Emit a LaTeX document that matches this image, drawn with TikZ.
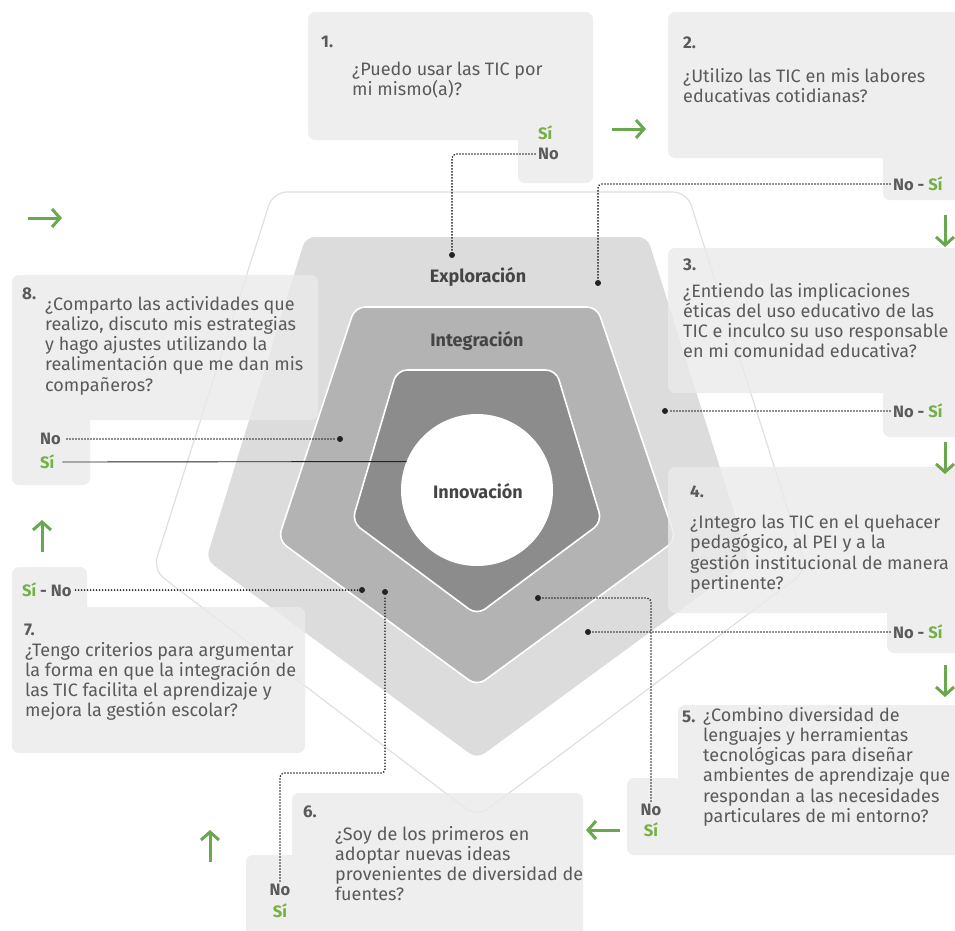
\documentclass[tikz,border=0pt]{standalone}
\usepackage{fontspec}
\setmainfont{Fira Sans}
\usetikzlibrary{arrows.meta,calc}
\definecolor{txt}{HTML}{5A5A5A}
\definecolor{ttlc}{HTML}{454545}
\definecolor{boxg}{HTML}{EAEAEA}
\definecolor{grn}{HTML}{6AA84F}
\definecolor{grnt}{HTML}{74B043}
\definecolor{dotc}{HTML}{222222}
\definecolor{pdark}{HTML}{8C8C8C}
\definecolor{pmed}{HTML}{B3B3B3}
\definecolor{plight}{HTML}{DCDCDC}
\definecolor{pline}{HTML}{E0E0E0}
\begin{document}
\begin{tikzpicture}[x=1pt,y=-1pt,
  boxfill/.style={fill=boxg, fill opacity=0.8, rounded corners=7pt},
  qtext/.style={anchor=north west, inner sep=0pt, align=left, text=txt, font=\fontsize{18}{20.2}\selectfont},
  numtext/.style={anchor=west, inner sep=0pt, text=txt, font=\fontsize{17}{20}\selectfont\bfseries},
  yn/.style={inner sep=0pt, text=txt, font=\fontsize{16.5}{20}\selectfont\bfseries},
  conn/.style={draw=dotc, line width=1.8pt, line cap=round, dash pattern=on 0pt off 3pt, rounded corners=4pt},
  dotm/.style={circle, fill=dotc, inner sep=0pt, minimum size=6pt},
  garrow/.style={draw=grn, line width=3pt, -{Straight Barb[length=8pt,width=18pt,line width=3pt]}},
  ttl/.style={text=ttlc, font=\fontsize{18}{20}\selectfont\bfseries},
  pent/.style={rounded corners=10pt, draw=white, line width=1.6pt}
]
\useasboundingbox (0,0) rectangle (955,930);
\fill[white] (0,0) rectangle (955,930);

% pentagons
\draw[pline, line width=1.2pt, fill=white, rounded corners=14pt]
  (273,192) -- (687,192) -- (807,570) -- (477,817) -- (153,570) -- cycle;
\filldraw[pent, fill=plight]
  (305,236) -- (648,236) -- (750,560) -- (477,760) -- (205,560) -- cycle;
\filldraw[pent, fill=pmed]
  (355,307) -- (597,307) -- (676,540) -- (477,686) -- (278,540) -- cycle;
\filldraw[pent, fill=pdark]
  (397,370) -- (556,370) -- (602,522) -- (477,615) -- (352,522) -- cycle;
\node[circle, fill=white, minimum size=152pt, inner sep=0pt, outer sep=0pt] (circ) at (477,490) {};

\node[ttl] (expl) at (478,277) {Exploración};
\node[ttl] (integ) at (477,341) {Integración};
\node[ttl] (innov) at (478,491) {Innovación};

% boxes
\fill[boxfill] (308,12) rectangle (593,140) (518,120) rectangle (593,183);
\fill[boxfill] (668,12) rectangle (965,158) (883,140) rectangle (965,200);
\fill[boxfill] (668,248) rectangle (965,393) (883,380) rectangle (965,437);
\fill[boxfill] (668,467) rectangle (965,613) (887,600) rectangle (965,653);
\fill[boxfill] (678,705) rectangle (965,855) (627,778) rectangle (690,855);
\fill[boxfill] (292,793) rectangle (583,940) (246,855) rectangle (300,940);
\fill[boxfill] (12,607) rectangle (305,753) (12,567) rectangle (87,620);
\fill[boxfill] (12,275) rectangle (318,420) (12,400) rectangle (90,485);

% numbers
\node[numtext] (n1) at (321,42) {1.};
\node[numtext] (n2) at (683,43) {2.};
\node[numtext] (n3) at (683,265) {3.};
\node[numtext] (n4) at (690,492) {4.};
\node[numtext] (n5) at (682,717) {5.};
\node[numtext] (n6) at (303,812) {6.};
\node[numtext] (n7) at (24,630) {7.};
\node[numtext] (n8) at (22,294) {8.};

% questions
\node[qtext] (q1) at (352,62) {¿Puedo usar las TIC por\\mi mismo(a)?};
\node[qtext] (q2) at (683,68) {¿Utilizo las TIC en mis labores\\educativas cotidianas?};
\node[qtext] (q3) at (683,283) {¿Entiendo las implicaciones\\éticas del uso educativo de las\\TIC e inculco su uso responsable\\en mi comunidad educativa?};
\node[qtext] (q4) at (690,515) {¿Integro las TIC en el quehacer\\pedagógico, al PEI y a la\\gestión institucional de manera\\pertinente?};
\node[qtext] (q5) at (703,707) {¿Combino diversidad de\\lenguajes y herramientas\\tecnológicas para diseñar\\ambientes de aprendizaje que\\respondan a las necesidades\\particulares de mi entorno?};
\node[qtext] (q6) at (335,826) {¿Soy de los primeros en\\adoptar nuevas ideas\\provenientes de diversidad de\\fuentes?};
\node[qtext] (q7) at (25,642) {¿Tengo criterios para argumentar\\la forma en que la integración de\\las TIC facilita el aprendizaje y\\mejora la gestión escolar?};
\node[qtext] (q8) at (45,296) {¿Comparto las actividades que\\realizo, discuto mis estrategias\\y hago ajustes utilizando la\\realimentación que me dan mis\\compañeros?};

% yes / no labels
\node[yn, anchor=west, text=grnt] (si1) at (538,133) {Sí};
\node[yn, anchor=west] (no1) at (538,154) {No};
\node[yn, anchor=west] (ns2) at (893,184) {No - \textcolor{grnt}{Sí}};
\node[yn, anchor=west] (ns3) at (893,411) {No - \textcolor{grnt}{Sí}};
\node[yn, anchor=west] (ns4) at (893,632) {No - \textcolor{grnt}{Sí}};
\node[yn] (no5) at (651,810) {No};
\node[yn, text=grnt] (si5) at (651,830) {Sí};
\node[yn] (no6) at (280,890) {No};
\node[yn, text=grnt] (si6) at (280,911) {Sí};
\node[yn, anchor=west] (sn7) at (22,590) {\textcolor{grnt}{Sí} - No};
\node[yn, anchor=west] (no8) at (40,439) {No};
\node[yn, anchor=west, text=grnt] (si8) at (40,462) {Sí};

% dots
\node[dotm] (d1) at (452,255) {};
\node[dotm] (d2) at (598,283) {};
\node[dotm] (d3) at (665,411) {};
\node[dotm] (d4) at (588,632) {};
\node[dotm] (d5) at (538,598) {};
\node[dotm] (d6) at (385,592) {};
\node[dotm] (d7) at (362,590) {};
\node[dotm] (d8) at (340,439) {};
\coordinate (k6) at (385,773);

% connectors
\draw[conn] ([xshift=-3pt]no1.west) -| (d1);
\draw[conn] ([xshift=-3pt]ns2.west) -| (d2);
\draw[conn] ([xshift=-3pt]ns3.west) -- (d3);
\draw[conn] ([xshift=-3pt]ns4.west) -- (d4);
\draw[conn] ([yshift=3pt]no5.north) |- (d5);
\draw[conn] ([yshift=3pt]no6.north) |- (k6) -- (d6);
\draw[conn] ([xshift=4pt]sn7.east) -- (d7);
\draw[conn] ([xshift=6pt]no8.east) -- (d8);
\draw[draw=dotc, line width=0.9pt] ([xshift=8pt]si8.east) -- (circ.158.4);

% green arrows
\coordinate (a1s) at (612,129); \coordinate (a1e) at (646,129);
\coordinate (a2s) at (945,215); \coordinate (a2e) at (945,247);
\coordinate (a3s) at (945,442); \coordinate (a3e) at (945,474);
\coordinate (a4s) at (945,665); \coordinate (a4e) at (945,697);
\coordinate (a5s) at (620,830); \coordinate (a5e) at (586,830);
\coordinate (a6s) at (210,862); \coordinate (a6e) at (210,830);
\coordinate (a7s) at (42,552); \coordinate (a7e) at (42,520);
\coordinate (a8s) at (28,218); \coordinate (a8e) at (62,218);
\foreach \s/\e in {a1s/a1e,a2s/a2e,a3s/a3e,a4s/a4e,a5s/a5e,a6s/a6e,a7s/a7e,a8s/a8e}
  \draw[garrow] (\s) -- (\e);
\end{tikzpicture}
\end{document}
